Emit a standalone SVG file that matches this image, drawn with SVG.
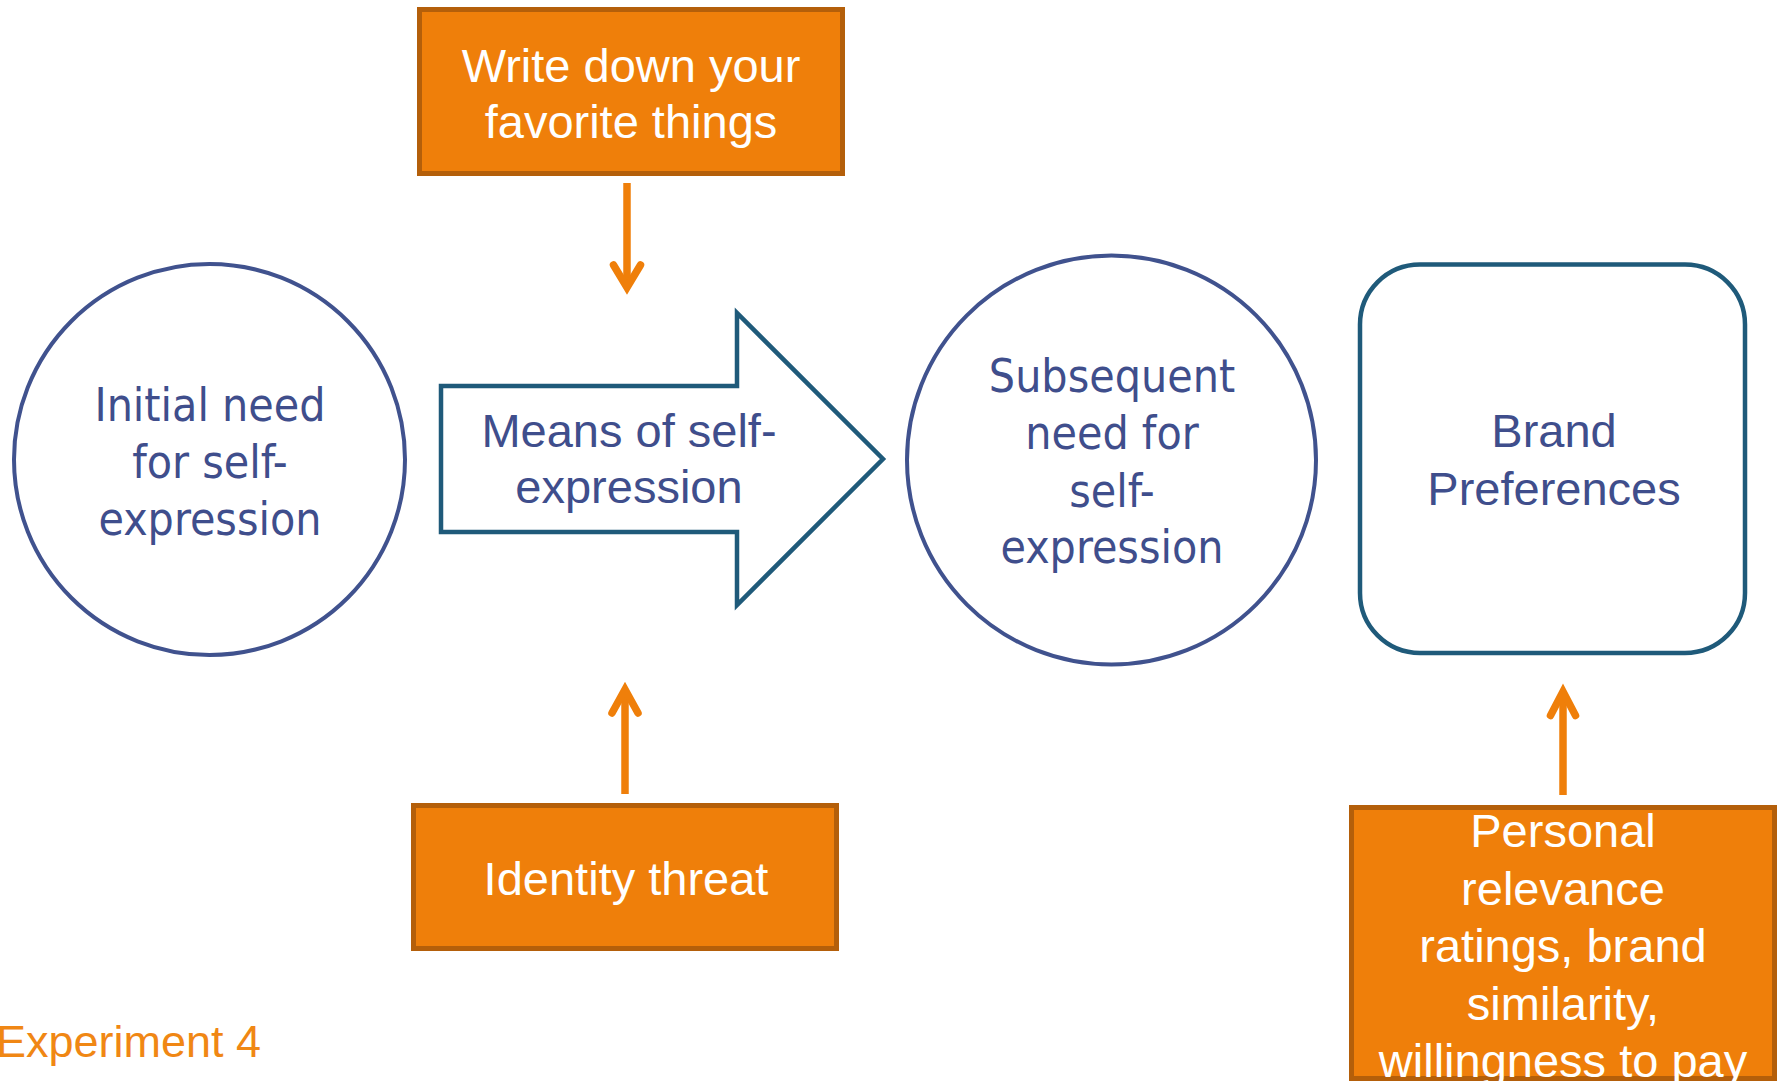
<svg xmlns="http://www.w3.org/2000/svg" width="1781" height="1081" viewBox="0 0 1781 1081">
  <style>
    .box { fill: #EF7F0A; stroke: #B45F0A; stroke-width: 5; }
    .box-text { font-family: "Liberation Sans", Arial, sans-serif; font-size: 47px; fill: #FFFFFF; text-anchor: middle; }
    .circle { fill: #FFFFFF; stroke: #40528E; stroke-width: 4; }
    .circle-text { font-family: "DejaVu Sans Condensed", "DejaVu Sans", sans-serif; font-stretch: condensed; font-size: 46px; fill: #3F4E8C; text-anchor: middle; }
    .outline { fill: #FFFFFF; stroke: #1F5A7A; stroke-width: 4.5; }
    .outline-text { font-family: "Liberation Sans", Arial, sans-serif; font-size: 47px; fill: #3F4E8C; text-anchor: middle; }
    .conn { fill: none; stroke: #EF7F0A; stroke-width: 7.5; stroke-linejoin: miter; }
    .head { fill: none; stroke: #EF7F0A; stroke-width: 7.5; stroke-linecap: round; stroke-linejoin: miter; stroke-miterlimit: 10; }
    .caption { font-family: "Liberation Sans", Arial, sans-serif; font-size: 45px; fill: #F08714; }
  </style>

  <rect width="1781" height="1081" fill="#FFFFFF"/>

  <!-- Manipulation: writing task -->
  <g id="write-favorites">
    <rect class="box" x="419.5" y="9.5" width="423" height="164"/>
    <text class="box-text" x="631" y="81.5">Write down your</text>
    <text class="box-text" x="631" y="137.5">favorite things</text>
  </g>

  <!-- Initial need -->
  <g id="initial-need">
    <circle class="circle" cx="209.5" cy="459.5" r="195.5"/>
    <text class="circle-text" x="210" y="421">Initial need</text>
    <text class="circle-text" x="210" y="478">for self-</text>
    <text class="circle-text" x="210" y="535">expression</text>
  </g>

  <!-- Block arrow: means of self-expression -->
  <g id="means-of-expression">
    <path class="outline" d="M441,386 H737 V313 L883,459 L737,605 V532 H441 Z"/>
    <text class="outline-text" x="629" y="447">Means of self-</text>
    <text class="outline-text" x="629" y="503">expression</text>
  </g>

  <!-- Subsequent need -->
  <g id="subsequent-need">
    <circle class="circle" cx="1111.5" cy="460" r="204.5"/>
    <text class="circle-text" x="1112" y="392">Subsequent</text>
    <text class="circle-text" x="1112" y="449">need for</text>
    <text class="circle-text" x="1112" y="507">self-</text>
    <text class="circle-text" x="1112" y="563">expression</text>
  </g>

  <!-- Outcome -->
  <g id="brand-preferences">
    <rect class="outline" x="1360" y="264.5" width="385" height="388.5" rx="60" ry="60"/>
    <text class="outline-text" x="1554" y="447">Brand</text>
    <text class="outline-text" x="1554" y="505">Preferences</text>
  </g>

  <!-- Manipulation: identity threat -->
  <g id="identity-threat">
    <rect class="box" x="413.5" y="805.5" width="423" height="143"/>
    <text class="box-text" x="626" y="895">Identity threat</text>
  </g>

  <!-- Measures -->
  <g id="measures">
    <rect class="box" x="1351.5" y="807.5" width="423" height="271"/>
    <text class="box-text" x="1563" y="847">Personal</text>
    <text class="box-text" x="1563" y="905">relevance</text>
    <text class="box-text" x="1563" y="962">ratings, brand</text>
    <text class="box-text" x="1563" y="1020">similarity,</text>
    <text class="box-text" x="1563" y="1077">willingness to pay</text>
  </g>

  <!-- Connectors -->
  <g id="connectors">
    <path class="conn" d="M627,183 V287"/>
    <path class="head" d="M613.5,265 L627,287.5 L640.5,265"/>

    <path class="conn" d="M625,794 V690"/>
    <path class="head" d="M612,713 L625,689.5 L638,713"/>

    <path class="conn" d="M1563,795 V692"/>
    <path class="head" d="M1550.5,715.5 L1563,691.5 L1575.5,715.5"/>
  </g>

  <text id="caption" class="caption" x="-4" y="1057">Experiment 4</text>
</svg>
